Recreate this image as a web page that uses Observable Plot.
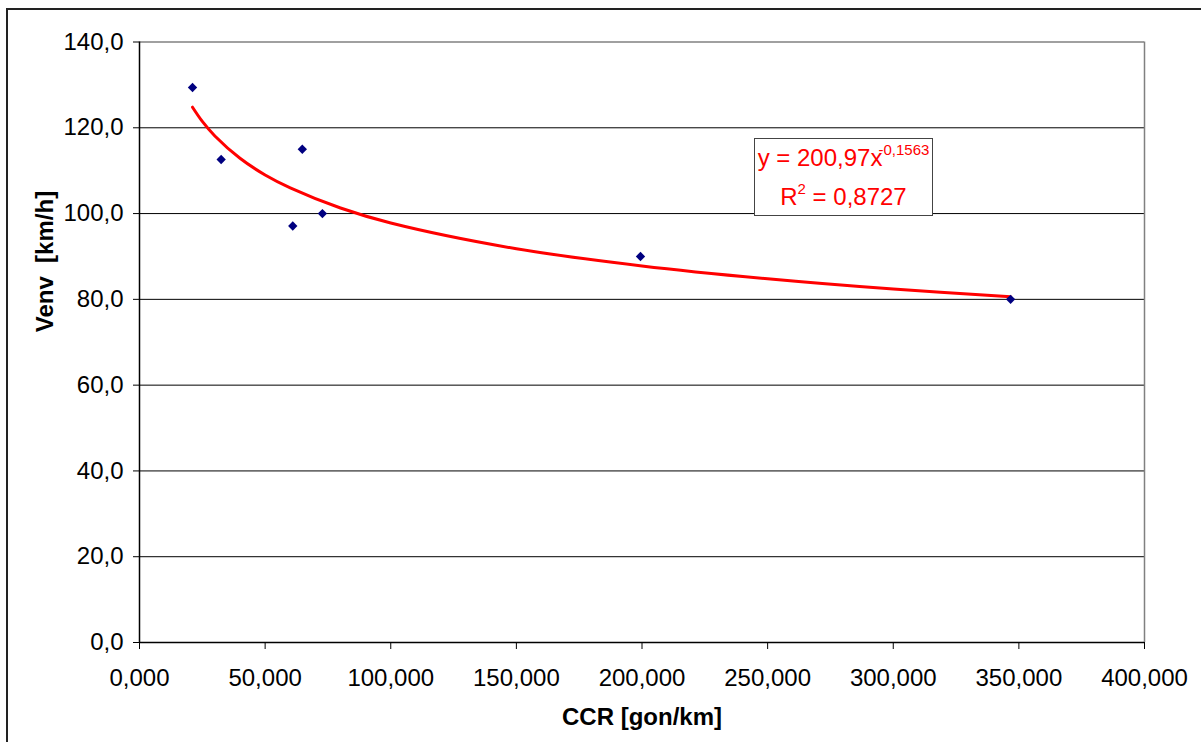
<!DOCTYPE html>
<html>
<head>
<meta charset="utf-8">
<script src="https://cdn.jsdelivr.net/npm/d3@7"></script>
<script src="https://cdn.jsdelivr.net/npm/@observablehq/plot@0.6"></script>
<style>
  html, body { margin: 0; padding: 0; background: white; overflow: hidden; }
  #wrap { position: relative; width: 1201px; height: 742px; }
  #chart { position: absolute; left: 0; top: 0; }
  #outer { position: absolute; left: 6px; top: 8px; width: 1210px; height: 750px; border: 2px solid #222; pointer-events: none; }
  #eq { position: absolute; left: 754px; top: 138px; width: 177px; height: 76px; border: 1px solid #444;
        color: #ff0000; font-family: "Liberation Sans", Arial, sans-serif; font-size: 24px; text-align: center; background: white; }
  #eq .l1 { position: absolute; left: 0; right: 0; top: 6px; line-height: 26px; white-space: nowrap; }
  #eq .l2 { position: absolute; left: 0; right: 0; top: 45px; line-height: 26px; white-space: nowrap; }
  #eq .sup { font-size: 15px; position: relative; top: -11px; }
</style>
</head>
<body>
<div id="wrap">
  <div id="chart"></div>
  <div id="eq">
    <div class="l1">y = 200,97x<span class="sup" style="margin-left:-4px">-0,1563</span></div>
    <div class="l2">R<span class="sup">2</span> = 0,8727</div>
  </div>
  <div id="outer"></div>
</div>
<script>
// Data
const ccr  = [21.1, 32.5, 64.8, 61.0, 72.8, 199.4, 346.7];
const venv = [129.4, 112.6, 115.0, 97.1, 100.0, 90.0, 80.0];

// Power trend line (as drawn in the reference)
const trendX = [21.1, 25, 30, 40, 50, 60, 80, 100, 150, 200, 250, 300, 346.7];
const trendY = [124.8, 121.5, 118.1, 112.9, 109.0, 106.0, 101.3, 97.8, 91.8, 87.8, 84.8, 82.4, 80.6];

const xTicks = [0, 50, 100, 150, 200, 250, 300, 350, 400];
const yTicks = [0, 20, 40, 60, 80, 100, 120, 140];

const xTitle = "CCR [gon/km]";
const yTitle = "Venv\u00a0 [km/h]";

const points = ccr.map((x, i) => ({x, y: venv[i]}));
const trend = trendX.map((x, i) => ({x, y: trendY[i]}));

const fmtX = d => d.toFixed(3).replace(".", ",");
const fmtY = d => d.toFixed(1).replace(".", ",");

const chart = Plot.plot({
  width: 1201,
  height: 742,
  marginLeft: 139,
  marginRight: 57,
  marginTop: 41.5,
  marginBottom: 100,
  style: {fontFamily: "'Liberation Sans', Arial, sans-serif", fontSize: "24px", color: "black", background: "white"},
  x: {domain: [0, 400]},
  y: {domain: [0, 140]},
  marks: [
    Plot.gridY(yTicks.filter(d => d > 0 && d < 140), {stroke: "black", strokeOpacity: 1, strokeWidth: 1}),
    Plot.ruleY([yTicks[yTicks.length - 1]], {stroke: "#808080", strokeWidth: 1.5}),
    Plot.ruleX([xTicks[xTicks.length - 1]], {stroke: "#808080", strokeWidth: 1.5}),
    Plot.ruleY([0], {stroke: "black", strokeWidth: 1.5}),
    Plot.ruleX([0], {stroke: "black", strokeWidth: 1.5}),
    Plot.axisX({ticks: xTicks, tickFormat: fmtX, tickSize: 7, tickPadding: 19, label: null, stroke: "black", fontSize: 24}),
    Plot.axisY({ticks: yTicks, tickFormat: fmtY, tickSize: 6, tickPadding: 10, label: null, stroke: "black", fontSize: 24}),
    Plot.text([xTitle], {frameAnchor: "bottom", dy: 75, fontWeight: "bold", fontSize: 24, lineAnchor: "middle"}),
    Plot.text([yTitle], {frameAnchor: "left", rotate: -90, dx: -94, dy: -10, fontWeight: "bold", fontSize: 24, lineAnchor: "middle"}),
    Plot.line(trend, {x: "x", y: "y", stroke: "#ff0000", strokeWidth: 3, curve: "catmull-rom"}),
    Plot.dot(points, {x: "x", y: "y", symbol: "diamond2", r: 4.2, fill: "#000080", stroke: "none"})
  ]
});
document.getElementById("chart").appendChild(chart);
</script>
</body>
</html>
